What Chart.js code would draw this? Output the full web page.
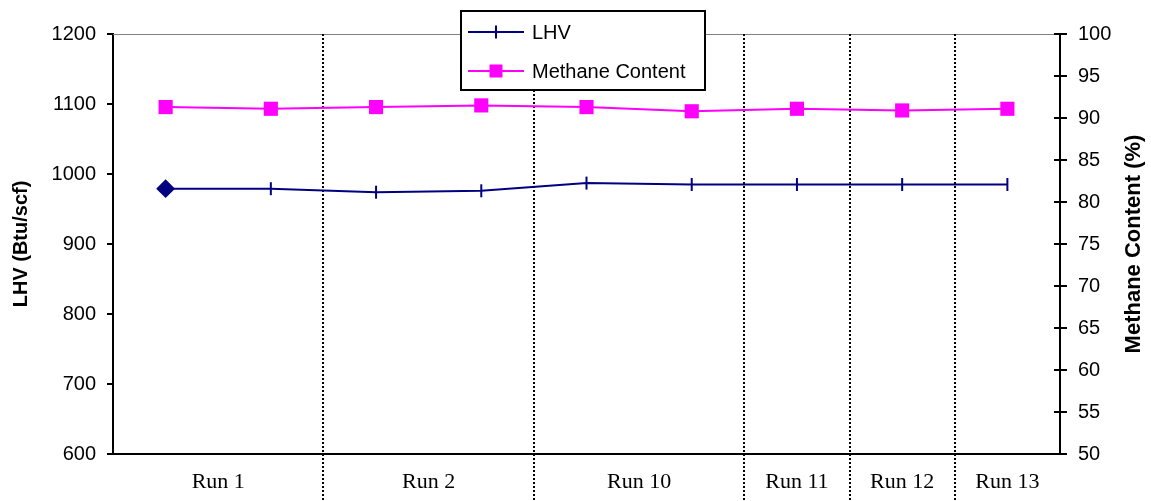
<!DOCTYPE html>
<html>
<head>
<meta charset="utf-8">
<script src="https://cdn.jsdelivr.net/npm/chart.js"></script>
<style>
  body { margin: 0; background: #fff; }
  #wrap { width: 1151px; height: 501px; }
</style>
</head>
<body>
<div id="wrap"><canvas id="myChart"></canvas></div>
<script>
// chart data
const runLabels = ['Run 1', 'Run 1', 'Run 2', 'Run 2', 'Run 10', 'Run 10', 'Run 11', 'Run 12', 'Run 13'];
const lhvValues = [979, 979, 974, 976, 987, 985, 985, 985, 985];
const methaneValues = [91.3, 91.1, 91.3, 91.5, 91.3, 90.8, 91.1, 90.9, 91.1];
const lhvTicks = [600, 700, 800, 900, 1000, 1100, 1200];
const methaneTicks = [50, 55, 60, 65, 70, 75, 80, 85, 90, 95, 100];

const navy = '#000080';
const magenta = '#ff00ff';
const tickFont = { family: 'Liberation Sans, Arial, sans-serif', size: 20 };

// first LHV point is a diamond, the rest are short vertical dashes
const lhvStyles = lhvValues.map((v, i) => i === 0 ? 'rectRot' : 'line');
const lhvRadius = lhvValues.map((v, i) => i === 0 ? 8 : 6.5);
const lhvRotation = lhvValues.map((v, i) => i === 0 ? 0 : 90);

// group consecutive points that belong to the same run
function getGroups() {
  const groups = [];
  runLabels.forEach((label, i) => {
    const last = groups[groups.length - 1];
    if (last && last.label === label) {
      last.end = i;
    } else {
      groups.push({ label: label, start: i, end: i });
    }
  });
  return groups;
}

// dotted run separators, run labels, top border, inner ticks on right axis
const runAxisPlugin = {
  id: 'runAxis',
  beforeDatasetsDraw(chart) {
    const ctx = chart.ctx;
    const area = chart.chartArea;
    const x = chart.scales.x;
    const groups = getGroups();

    ctx.save();
    ctx.strokeStyle = '#808080';
    ctx.lineWidth = 1;
    ctx.beginPath();
    ctx.moveTo(area.left, area.top + 0.5);
    ctx.lineTo(area.right, area.top + 0.5);
    ctx.stroke();

    ctx.strokeStyle = '#000';
    ctx.lineWidth = 2;
    ctx.setLineDash([2, 2]);
    for (let g = 0; g < groups.length - 1; g++) {
      const px = Math.round(x.getPixelForValue(groups[g].end + 0.5));
      ctx.beginPath();
      ctx.moveTo(px, area.top);
      ctx.lineTo(px, chart.height);
      ctx.stroke();
    }
    ctx.restore();
  },
  afterDraw(chart) {
    const ctx = chart.ctx;
    const area = chart.chartArea;
    const x = chart.scales.x;
    const y1 = chart.scales.y1;
    const groups = getGroups();

    ctx.save();
    // run labels centred between separators
    ctx.fillStyle = '#000';
    ctx.font = '22px "Liberation Serif", "Times New Roman", serif';
    ctx.textAlign = 'center';
    ctx.textBaseline = 'middle';
    groups.forEach(g => {
      const left = x.getPixelForValue(g.start - 0.5);
      const right = x.getPixelForValue(g.end + 0.5);
      ctx.fillText(g.label, (left + right) / 2, area.bottom + 28);
    });

    // right axis ticks cross the axis line
    ctx.strokeStyle = '#000';
    ctx.lineWidth = 2;
    y1.ticks.forEach((t, i) => {
      const py = Math.round(y1.getPixelForTick(i));
      ctx.beginPath();
      ctx.moveTo(area.right - 6, py);
      ctx.lineTo(area.right, py);
      ctx.stroke();
    });

    // right axis title reads bottom to top
    ctx.font = 'bold 22px "Liberation Sans", Arial, sans-serif';
    ctx.translate(1134, (area.top + area.bottom) / 2);
    ctx.rotate(-Math.PI / 2);
    ctx.fillText('Methane Content (%)', 0, 0);
    ctx.restore();
  }
};

// boxed legend that sits over the top of the plot
const boxLegendPlugin = {
  id: 'boxLegend',
  afterDraw(chart) {
    const ctx = chart.ctx;
    const sets = chart.data.datasets;
    const box = { x: 461, y: 11, w: 244, h: 79 };
    ctx.save();
    ctx.fillStyle = '#fff';
    ctx.fillRect(box.x, box.y, box.w, box.h);
    ctx.strokeStyle = '#000';
    ctx.lineWidth = 2;
    ctx.strokeRect(box.x, box.y, box.w, box.h);

    ctx.font = '20px "Liberation Sans", Arial, sans-serif';
    ctx.textBaseline = 'middle';
    const rows = [32, 71];
    sets.forEach((ds, i) => {
      const ry = rows[i];
      ctx.strokeStyle = ds.borderColor;
      ctx.lineWidth = 2;
      ctx.beginPath();
      ctx.moveTo(468, ry);
      ctx.lineTo(524, ry);
      ctx.stroke();
      if (i === 0) {
        ctx.beginPath();
        ctx.moveTo(496, ry - 6.5);
        ctx.lineTo(496, ry + 6.5);
        ctx.stroke();
      } else {
        ctx.fillStyle = ds.backgroundColor;
        ctx.fillRect(489.5, ry - 6.5, 13, 13);
      }
      ctx.fillStyle = '#000';
      ctx.fillText(ds.label, 532, ry + 1);
    });
    ctx.restore();
  }
};

const ctx = document.getElementById('myChart');
const myLineChart = new Chart(ctx, {
  type: 'line',
  data: {
    labels: runLabels,
    datasets: [{
      label: 'LHV',
      data: lhvValues,
      yAxisID: 'y',
      borderColor: navy,
      backgroundColor: navy,
      borderWidth: 2,
      pointStyle: lhvStyles,
      pointRadius: lhvRadius,
      pointRotation: lhvRotation,
      pointBorderWidth: 2,
      pointBackgroundColor: navy,
      pointBorderColor: navy,
      tension: 0
    }, {
      label: 'Methane Content',
      data: methaneValues,
      yAxisID: 'y1',
      borderColor: magenta,
      backgroundColor: magenta,
      borderWidth: 2,
      pointStyle: 'rect',
      pointRadius: 10,
      pointBorderWidth: 0,
      pointBackgroundColor: magenta,
      tension: 0
    }]
  },
  options: {
    responsive: true,
    maintainAspectRatio: false,
    animation: false,
    events: [],
    layout: { padding: { top: 34, left: 0, right: 0, bottom: 0 } },
    plugins: {
      legend: { display: false },
      tooltip: { enabled: false }
    },
    scales: {
      x: {
        type: 'category',
        offset: true,
        grid: { display: false },
        border: { color: '#000', width: 2 },
        ticks: { display: false },
        afterFit(scale) { scale.height = 47; }
      },
      y: {
        position: 'left',
        min: 600,
        max: 1200,
        afterBuildTicks(scale) { scale.ticks = lhvTicks.map(v => ({ value: v })); },
        ticks: { font: tickFont, color: '#000', padding: 11, callback: v => String(v) },
        grid: { drawOnChartArea: false, tickLength: 6, color: '#000', lineWidth: 2 },
        border: { color: '#000', width: 2 },
        title: {
          display: true,
          text: 'LHV (Btu/scf)',
          color: '#000',
          font: { family: 'Liberation Sans, Arial, sans-serif', size: 20, weight: 'bold' },
          padding: { top: 9, bottom: 0 }
        },
        afterFit(scale) { scale.width = 113; }
      },
      y1: {
        position: 'right',
        min: 50,
        max: 100,
        afterBuildTicks(scale) { scale.ticks = methaneTicks.map(v => ({ value: v })); },
        ticks: { font: tickFont, color: '#000', padding: 11, callback: v => String(v) },
        grid: { drawOnChartArea: false, tickLength: 7, color: '#000', lineWidth: 2 },
        border: { color: '#000', width: 2 },
        afterFit(scale) { scale.width = 91; }
      }
    }
  },
  plugins: [runAxisPlugin, boxLegendPlugin]
});
</script>
</body>
</html>
